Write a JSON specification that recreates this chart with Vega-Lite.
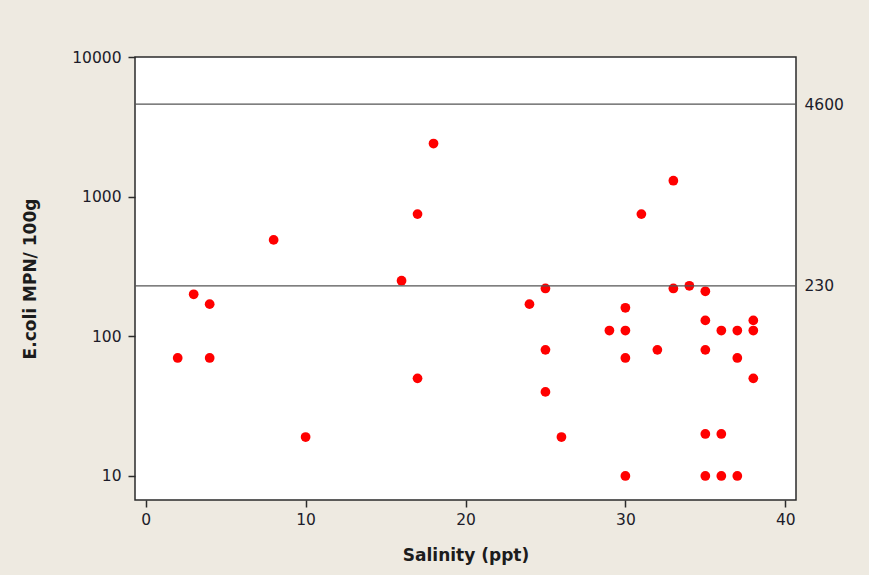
{
  "$schema": "https://vega.github.io/schema/vega-lite/v6.json",
  "autosize": "none",
  "width": 661,
  "height": 443,
  "padding": {"left": 135, "top": 57, "right": 73, "bottom": 75},
  "background": "#eeeae1",
  "config": {
    "view": {"fill": "white", "stroke": "#2b2b2b", "strokeWidth": 1.5},
    "axis": {
      "labelFont": "DejaVu Sans",
      "labelFontSize": 15.5,
      "labelColor": "#1c1c2a",
      "titleFont": "DejaVu Sans",
      "titleFontSize": 17,
      "titleFontWeight": "bold",
      "titleColor": "#1c1c1c",
      "grid": false,
      "domain": false,
      "tickColor": "#2b2b2b",
      "tickSize": 7,
      "tickWidth": 1.5
    }
  },
  "datasets": {
    "pts": [
      {"salinity": 2, "ecoli": 70},
      {"salinity": 3, "ecoli": 200},
      {"salinity": 4, "ecoli": 170},
      {"salinity": 4, "ecoli": 70},
      {"salinity": 8, "ecoli": 490},
      {"salinity": 10, "ecoli": 19},
      {"salinity": 16, "ecoli": 250},
      {"salinity": 17, "ecoli": 750},
      {"salinity": 17, "ecoli": 50},
      {"salinity": 18, "ecoli": 2400},
      {"salinity": 24, "ecoli": 170},
      {"salinity": 25, "ecoli": 220},
      {"salinity": 25, "ecoli": 80},
      {"salinity": 25, "ecoli": 40},
      {"salinity": 26, "ecoli": 19},
      {"salinity": 29, "ecoli": 110},
      {"salinity": 30, "ecoli": 160},
      {"salinity": 30, "ecoli": 110},
      {"salinity": 30, "ecoli": 70},
      {"salinity": 30, "ecoli": 10},
      {"salinity": 31, "ecoli": 750},
      {"salinity": 32, "ecoli": 80},
      {"salinity": 33, "ecoli": 1300},
      {"salinity": 33, "ecoli": 220},
      {"salinity": 34, "ecoli": 230},
      {"salinity": 35, "ecoli": 210},
      {"salinity": 35, "ecoli": 130},
      {"salinity": 35, "ecoli": 80},
      {"salinity": 35, "ecoli": 20},
      {"salinity": 35, "ecoli": 10},
      {"salinity": 36, "ecoli": 110},
      {"salinity": 36, "ecoli": 20},
      {"salinity": 36, "ecoli": 10},
      {"salinity": 37, "ecoli": 110},
      {"salinity": 37, "ecoli": 70},
      {"salinity": 37, "ecoli": 10},
      {"salinity": 38, "ecoli": 130},
      {"salinity": 38, "ecoli": 110},
      {"salinity": 38, "ecoli": 50}
    ],
    "refs": [
      {"ref": 4600},
      {"ref": 230}
    ]
  },
  "layer": [
    {
      "data": {"name": "pts"},
      "mark": {"type": "circle", "color": "#ff0000", "opacity": 1, "size": 95},
      "encoding": {
        "x": {
          "field": "salinity",
          "type": "quantitative",
          "scale": {"domain": [-0.67, 40.67], "nice": false, "zero": false},
          "axis": {
            "values": [0, 10, 20, 30, 40],
            "title": "Salinity (ppt)",
            "labelPadding": 5,
            "titleY": 60,
            "titleBaseline": "alphabetic"
          }
        },
        "y": {
          "field": "ecoli",
          "type": "quantitative",
          "scale": {"type": "log", "domain": [6.73, 10000], "nice": false},
          "axis": {
            "values": [10, 100, 1000, 10000],
            "format": "d",
            "title": "E.coli MPN/ 100g",
            "labelPadding": 7,
            "labelFlush": false,
            "titleX": -105,
            "titleY": 221.5,
            "titleBaseline": "middle",
            "titleAngle": -90
          }
        }
      }
    },
    {
      "data": {"name": "refs"},
      "mark": {"type": "rule", "color": "#555555", "strokeWidth": 1.2},
      "encoding": {
        "y": {
          "field": "ref",
          "type": "quantitative",
          "axis": {
            "orient": "right",
            "values": [230, 4600],
            "format": "d",
            "title": null,
            "ticks": false,
            "labelPadding": 8,
            "labelFlush": false
          }
        }
      }
    }
  ],
  "resolve": {"axis": {"y": "independent"}}
}
